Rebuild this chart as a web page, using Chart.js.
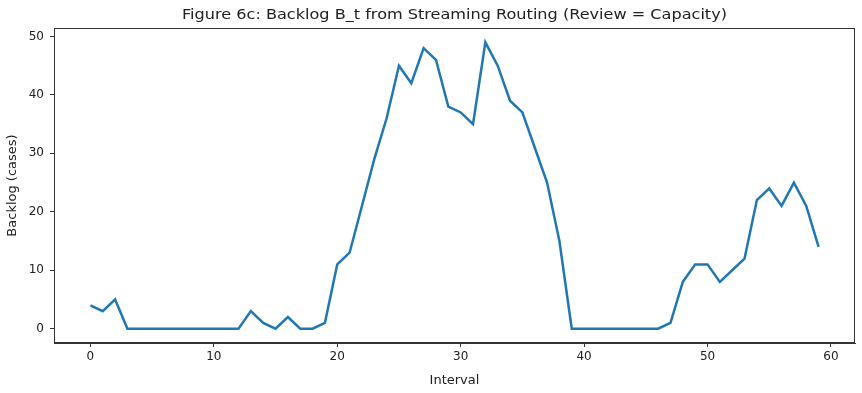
<!DOCTYPE html>
<html>
<head>
<meta charset="utf-8">
<script src="https://cdn.jsdelivr.net/npm/chart.js@4"></script>
<style>
  html, body { margin: 0; padding: 0; background: #fff; }
  #wrap { width: 862px; height: 393px; }
</style>
</head>
<body>
<div id="wrap"><canvas id="c" width="862" height="393"></canvas></div>
<script>
// backlog per interval
const intervals = Array.from({ length: 60 }, (_, i) => i)
const backlog = [
  4, 3, 5, 0, 0, 0, 0, 0, 0, 0,
  0, 0, 0, 3, 1, 0, 2, 0, 0, 1,
  11, 13, 21, 29, 36, 45, 42, 48, 46, 38,
  37, 35, 49, 45, 39, 37, 31, 25, 15, 0,
  0, 0, 0, 0, 0, 0, 0, 1, 8, 11,
  11, 8, 10, 12, 22, 24, 21, 25, 21, 14
]
const xTicks = [0, 10, 20, 30, 40, 50, 60]
const yTicks = [0, 10, 20, 30, 40, 50]

const titleText = 'Figure 6c: Backlog B_t from Streaming Routing (Review = Capacity)'
const fontFam = "'DejaVu Sans', sans-serif"

// title centred over the axes + the two missing spines
const framePlugin = {
  id: 'frame',
  afterDraw(chart) {
    const { ctx, chartArea: a } = chart
    ctx.save()
    ctx.strokeStyle = '#333'
    ctx.lineWidth = 1
    ctx.strokeRect(a.left + 0.5, a.top + 0.5, a.right - a.left - 1, a.bottom - a.top - 1)
    ctx.fillStyle = '#222'
    ctx.font = '14px ' + fontFam
    ctx.textAlign = 'center'
    ctx.textBaseline = 'middle'
    // the reference title is a bit wider than plain 14px text
    ctx.translate((a.left + a.right) / 2, 15)
    ctx.scale(1.15, 1)
    ctx.fillText(titleText, 0, 0)
    ctx.restore()
  }
}

new Chart(document.getElementById('c'), {
  type: 'line',
  data: {
    datasets: [{
      data: intervals.map((x, i) => ({ x, y: backlog[i] })),
      borderColor: '#1f77b4',
      borderWidth: 2.5,
      pointRadius: 0,
      tension: 0,
      fill: false
    }]
  },
  options: {
    responsive: false,
    animation: false,
    layout: { padding: { top: 28, right: 7, left: 0, bottom: 0 } },
    plugins: { legend: { display: false }, tooltip: { enabled: false } },
    scales: {
      x: {
        type: 'linear',
        min: -2.95, max: 61.95,
        afterBuildTicks: s => { s.ticks = xTicks.map(v => ({ value: v })) },
        afterFit: s => { s.height = 50 },
        grid: { drawOnChartArea: false, drawTicks: true, tickLength: 4, color: '#333' },
        border: { display: true, color: '#333' },
        ticks: { font: { family: fontFam, size: 12 }, color: '#222', padding: 3, maxRotation: 0 },
        title: { display: true, text: 'Interval', font: { family: fontFam, size: 13 }, color: '#222', padding: { top: 2, bottom: 5 } }
      },
      y: {
        type: 'linear',
        min: -2.45, max: 51.45,
        afterBuildTicks: s => { s.ticks = yTicks.map(v => ({ value: v })) },
        afterFit: s => { s.width = 54 },
        grid: { drawOnChartArea: false, drawTicks: true, tickLength: 4, color: '#333' },
        border: { display: true, color: '#333' },
        ticks: { font: { family: fontFam, size: 12 }, color: '#222', padding: 6 },
        title: { display: true, text: 'Backlog (cases)', font: { family: fontFam, size: 13 }, color: '#222', padding: { top: 5, bottom: 2 } }
      }
    }
  },
  plugins: [framePlugin]
})
</script>
</body>
</html>
